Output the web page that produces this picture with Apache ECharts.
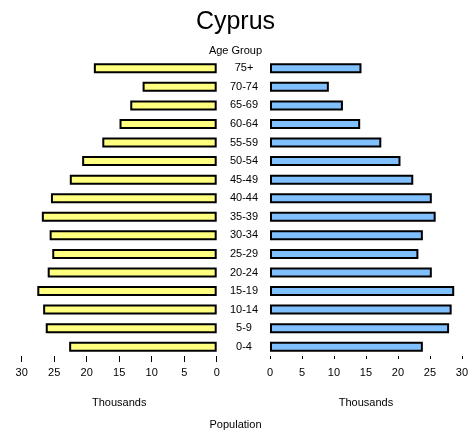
<!DOCTYPE html>
<html><head><meta charset="utf-8">
<script src="https://cdn.jsdelivr.net/npm/echarts@6/dist/echarts.min.js"></script>
<style>html,body{margin:0;padding:0;background:#fff}#c{width:471px;height:431px}</style>
</head><body><div id="c"></div>
<script>
var ageGroups = ['0-4','5-9','10-14','15-19','20-24','25-29','30-34','35-39','40-44','45-49','50-54','55-59','60-64','65-69','70-74','75+'];
var leftValues = [22.7,26.3,26.7,27.6,26.0,25.3,25.7,26.9,25.5,22.6,20.7,17.6,14.95,13.3,11.4,18.9];
var rightValues = [23.9,28.0,28.4,28.8,25.3,23.2,23.9,25.9,25.3,22.4,20.4,17.4,14.1,11.4,9.2,14.3];
var xTicks = [0,5,10,15,20,25,30];

var FONT = 'Liberation Sans';
var chart = echarts.init(document.getElementById('c'), null, {renderer:'canvas'});
var grids = [
  {left: 21.7, width: 195, top: 59, height: 297},
  {left: 270, width: 196, top: 59, height: 297}
];
function xAx(i, inv, tickLen){
  return {
    type:'value', gridIndex:i, min:xTicks[0], max:xTicks[xTicks.length-1], interval:xTicks[1]-xTicks[0], inverse:inv,
    axisLine:{show:false}, splitLine:{show:false},
    axisTick:{show:true, length:tickLen, lineStyle:{color:'#000', width:1}},
    axisLabel:{margin:11, fontFamily:FONT, fontSize:11, color:'#000', showMinLabel:true, showMaxLabel:true},
    name:'Thousands', nameLocation:'middle', nameGap:41,
    nameTextStyle:{fontFamily:FONT, fontSize:11, color:'#000'}
  };
}
chart.setOption({
  animation:false,
  title:{text:'Cyprus', left:'center', top:5, textStyle:{fontFamily:FONT, fontSize:25, fontWeight:'normal', color:'#000'}},
  graphic:[
    {type:'text', left:'center', top:45, style:{text:'Age Group', font:'11px "Liberation Sans"', fill:'#000'}},
    {type:'text', left:'center', top:419, style:{text:'Population', font:'11px "Liberation Sans"', fill:'#000'}}
  ],
  grid: grids,
  xAxis:[xAx(0,true,6), xAx(1,false,3)],
  yAxis:[
    {type:'category', gridIndex:0, data:ageGroups, axisLine:{show:false}, axisTick:{show:false}, axisLabel:{show:false}},
    {type:'category', gridIndex:1, data:ageGroups, axisLine:{show:false}, axisTick:{show:false},
     axisLabel:{show:true, margin:26, align:'center', fontFamily:FONT, fontSize:11, color:'#000'}}
  ],
  series:[
    {type:'bar', xAxisIndex:0, yAxisIndex:0, data:leftValues, barWidth:10,
     itemStyle:{color:'#FFFF80', borderColor:'#000', borderWidth:2}},
    {type:'bar', xAxisIndex:1, yAxisIndex:1, data:rightValues, barWidth:10,
     itemStyle:{color:'#80C0FF', borderColor:'#000', borderWidth:2}}
  ]
});
</script></body></html>
